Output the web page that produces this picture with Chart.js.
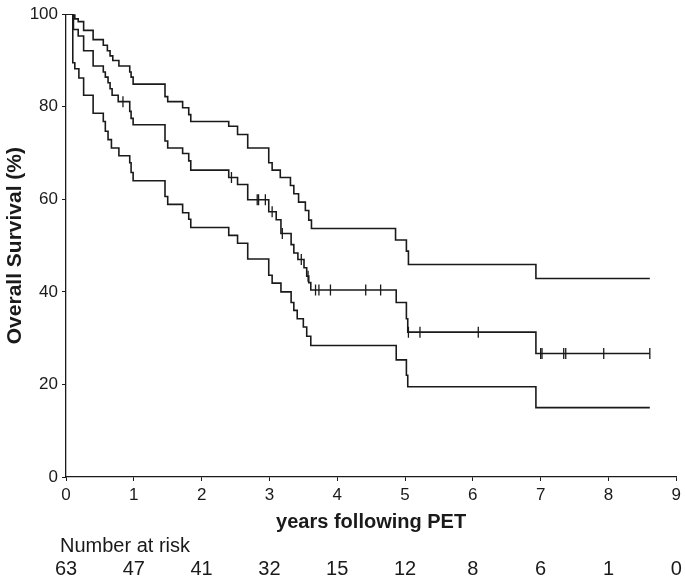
<!DOCTYPE html>
<html>
<head>
<meta charset="utf-8">
<script src="https://cdn.jsdelivr.net/npm/chart.js@4.4.1/dist/chart.umd.min.js"></script>
<style>
  body { margin: 0; background: #fff; }
</style>
</head>
<body>
<canvas id="chart" width="685" height="579"></canvas>
<script>
// Kaplan-Meier estimate (middle) with upper / lower confidence bounds
const upperTimes = [0, 0.13, 0.18, 0.26, 0.40, 0.55, 0.61, 0.65, 0.69, 0.78, 0.94, 0.96, 0.99, 1.46, 1.50, 1.72, 1.81, 1.84, 2.40, 2.53, 2.68, 2.99, 3.04, 3.16, 3.31, 3.36, 3.43, 3.53, 3.58, 3.62, 4.86, 5.02, 5.05, 6.93, 8.61];
const upperSurv  = [100, 99.0, 98.4, 96.5, 94.5, 93.3, 92.1, 91.0, 90.0, 88.8, 87.5, 86.4, 84.9, 82.2, 81.1, 79.8, 78.3, 76.8, 75.8, 74.0, 71.1, 67.9, 66.3, 64.7, 63.0, 61.2, 59.4, 57.6, 55.5, 53.7, 51.2, 48.8, 45.9, 42.9, 42.9];

const kmTimes = [0, 0.11, 0.18, 0.26, 0.40, 0.55, 0.58, 0.62, 0.65, 0.68, 0.77, 0.94, 0.96, 0.99, 1.46, 1.50, 1.72, 1.81, 1.84, 2.40, 2.53, 2.68, 2.99, 3.10, 3.17, 3.32, 3.36, 3.42, 3.51, 3.55, 3.58, 3.61, 4.87, 5.02, 5.04, 6.93, 8.61];
const kmSurv  = [100, 96.7, 95.3, 92.1, 88.8, 87.5, 86.4, 85.2, 83.9, 82.5, 81.1, 79.0, 77.5, 76.1, 72.6, 71.1, 69.9, 68.3, 66.3, 64.7, 63.2, 59.9, 57.3, 55.6, 52.6, 50.2, 48.4, 47.0, 45.2, 43.4, 42.0, 40.4, 37.7, 34.2, 31.3, 26.7, 26.7];

const lowerTimes = [0, 0.10, 0.13, 0.19, 0.26, 0.40, 0.55, 0.58, 0.62, 0.67, 0.78, 0.94, 0.96, 0.99, 1.46, 1.50, 1.72, 1.81, 1.84, 2.40, 2.53, 2.68, 2.99, 3.04, 3.17, 3.32, 3.36, 3.41, 3.50, 3.55, 3.61, 4.87, 5.02, 5.04, 6.93, 8.61];
const lowerSurv  = [100, 89.5, 88.2, 86.2, 82.5, 78.6, 76.8, 74.7, 72.9, 71.1, 69.4, 67.9, 65.8, 64.0, 60.6, 58.9, 57.1, 55.7, 53.9, 52.2, 50.5, 47.1, 43.6, 41.9, 40.0, 37.7, 36.0, 34.2, 32.4, 30.4, 28.4, 25.3, 22.0, 19.5, 15.0, 15.0];

const censorTimes = [0.84, 2.44, 2.82, 2.84, 2.94, 3.04, 3.19, 3.47, 3.57, 3.68, 3.73, 3.90, 4.42, 4.64, 5.05, 5.22, 6.08, 7.00, 7.02, 7.34, 7.37, 7.93, 8.61];

const atRisk = [63, 47, 41, 32, 15, 12, 8, 6, 1, 0];

const FONT = '"Liberation Sans", Arial, sans-serif';
const INK = '#1a1a1a';

function toPoints(times, values) {
  return times.map((t, i) => ({ x: t, y: values[i] }));
}

function kmAt(t) {
  let s = kmSurv[0];
  for (let i = 0; i < kmTimes.length; i++) {
    if (kmTimes[i] <= t) s = kmSurv[i];
  }
  return s;
}

const extraText = {
  id: 'extraText',
  afterDraw(chart) {
    const ctx = chart.ctx;
    const xs = chart.scales.x;
    const area = chart.chartArea;
    ctx.save();
    ctx.fillStyle = INK;
    ctx.textBaseline = 'middle';

    // x title
    ctx.font = 'bold 20px ' + FONT;
    ctx.textAlign = 'center';
    ctx.fillText('years following PET', (area.left + area.right) / 2, 522);

    // y title
    ctx.save();
    ctx.font = 'bold 21px ' + FONT;
    ctx.translate(15, (area.top + area.bottom) / 2);
    ctx.rotate(-Math.PI / 2);
    ctx.fillText('Overall Survival (%)', 0, 0);
    ctx.restore();

    // number at risk
    ctx.font = '20px ' + FONT;
    ctx.textAlign = 'left';
    ctx.fillText('Number at risk', 60, 546);
    ctx.textAlign = 'center';
    atRisk.forEach((n, i) => {
      ctx.fillText(String(n), xs.getPixelForValue(i), 569);
    });
    ctx.restore();
  }
};

new Chart(document.getElementById('chart').getContext('2d'), {
  type: 'line',
  data: {
    datasets: [
      { data: toPoints(upperTimes, upperSurv), stepped: true },
      { data: toPoints(kmTimes, kmSurv), stepped: true },
      { data: toPoints(lowerTimes, lowerSurv), stepped: true },
      {
        type: 'scatter',
        data: censorTimes.map(t => ({ x: t, y: kmAt(t) })),
        pointStyle: 'line',
        pointRotation: 90,
        pointRadius: 5.5,
        pointBorderWidth: 1.3,
        pointBorderColor: INK,
        borderWidth: 1.3,
        showLine: false
      }
    ].map(d => Object.assign({
      borderColor: INK,
      borderWidth: 1.6,
      pointRadius: 0,
      fill: false
    }, d))
  },
  options: {
    responsive: false,
    animation: false,
    layout: { padding: { top: 8, right: 6, left: 0, bottom: 0 } },
    plugins: { legend: { display: false }, tooltip: { enabled: false } },
    scales: {
      x: {
        type: 'linear',
        min: 0,
        max: 9,
        ticks: { stepSize: 1, color: INK, font: { size: 17, family: FONT }, padding: 4 },
        grid: { drawOnChartArea: false, color: INK, tickLength: 4 },
        border: { color: INK, width: 1.3 },
        afterFit: s => { s.height = 102; }
      },
      y: {
        min: 0,
        max: 100,
        ticks: { stepSize: 20, color: INK, font: { size: 17, family: FONT }, padding: 4 },
        grid: { drawOnChartArea: false, color: INK, tickLength: 4 },
        border: { color: INK, width: 1.3 },
        afterFit: s => { s.width = 66; }
      }
    }
  },
  plugins: [extraText]
});
</script>
</body>
</html>
